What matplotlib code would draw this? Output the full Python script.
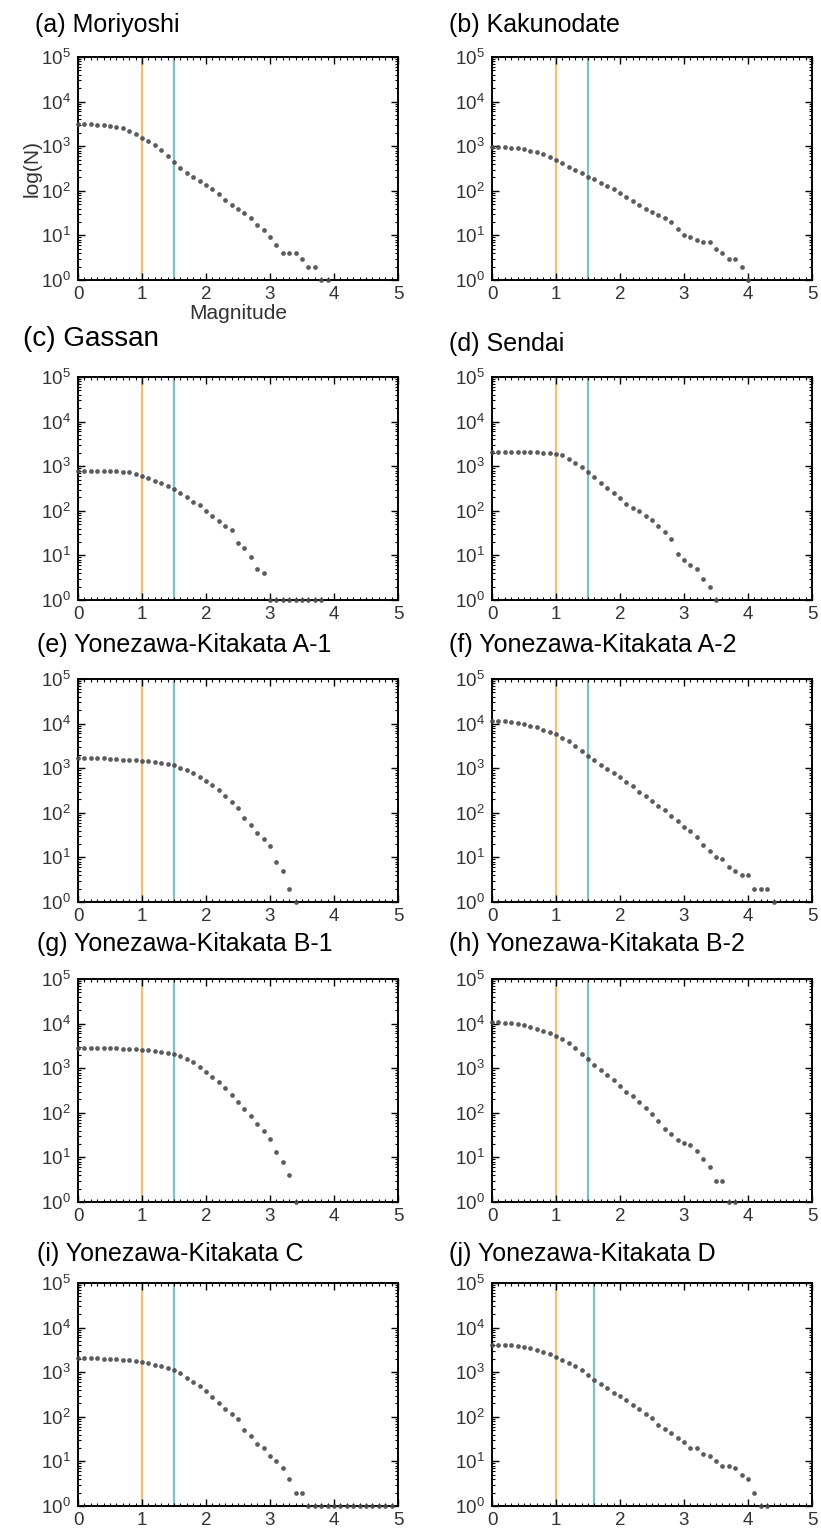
"""
Cumulative frequency-magnitude distributions for ten volcanic areas.
"""

import matplotlib
matplotlib.use("Agg")
import matplotlib.pyplot as plt
from matplotlib.ticker import LogLocator, MultipleLocator, NullFormatter
import numpy as np

plt.rcParams["font.family"] = ["Liberation Sans", "DejaVu Sans"]
plt.rcParams["mathtext.default"] = "regular"

# Magnitude bins (0.1 step)
MAG = np.round(np.arange(0, 5.0, 0.1), 1)

titles = [
    "(a) Moriyoshi", "(b) Kakunodate", "(c) Gassan", "(d) Sendai",
    "(e) Yonezawa-Kitakata A-1", "(f) Yonezawa-Kitakata A-2",
    "(g) Yonezawa-Kitakata B-1", "(h) Yonezawa-Kitakata B-2",
    "(i) Yonezawa-Kitakata C", "(j) Yonezawa-Kitakata D",
]

# cumulative number of events N(>=M)
n_moriyoshi = [3100, 3100, 3080, 3050, 3000, 2900, 2750, 2500, 2200, 1850,
               1550, 1300, 1050, 820, 610, 440, 330, 255, 204, 166,
               133, 107, 84, 61, 48, 39, 31, 25, 17, 13,
               9, 6, 4, 4, 4, 3, 2, 2, 1, 1]
n_kakunodate = [980, 970, 955, 930, 895, 850, 800, 730, 660, 580,
                500, 410, 345, 290, 245, 205, 180, 150, 131, 108,
                89, 73, 58, 47, 40, 33, 29, 25, 20, 14,
                10, 9, 8, 7, 7, 5, 4, 3, 3, 2,
                1]
n_gassan = [790, 790, 790, 790, 790, 785, 775, 755, 730, 670,
            610, 550, 475, 415, 365, 310, 250, 203, 158, 133,
            100, 76, 60, 46, 37, 19, 15, 9, 5, 4,
            1, 1, 1, 1, 1, 1, 1, 1, 1]
n_sendai = [2100, 2100, 2100, 2100, 2100, 2080, 2060, 2040, 2000, 1950,
            1900, 1770, 1480, 1200, 960, 750, 560, 430, 330, 257,
            190, 140, 118, 97, 77, 63, 46, 34, 23, 11,
            8, 6, 5, 3, 2, 1]
n_yk_a1 = [1660, 1660, 1660, 1660, 1660, 1640, 1600, 1560, 1520, 1490,
           1450, 1420, 1370, 1300, 1230, 1150, 1030, 915, 775, 650,
           505, 425, 318, 235, 173, 130, 78, 52, 36, 26,
           18, 8, 5, 2, 1]
n_yk_a2 = [11500, 11400, 11200, 11000, 10500, 9800, 9000, 8200, 7300, 6500,
           5700, 4800, 4000, 3150, 2430, 1860, 1510, 1210, 960, 790,
           635, 480, 390, 300, 235, 180, 139, 113, 86, 64,
           49, 40, 29, 19, 14, 10, 9, 6, 5, 4,
           4, 2, 2, 2, 1]
n_yk_b1 = [2840, 2840, 2840, 2840, 2840, 2840, 2800, 2750, 2700, 2650,
           2600, 2500, 2400, 2300, 2200, 2090, 1910, 1610, 1360, 1050,
           815, 630, 490, 360, 245, 175, 124, 84, 56, 40,
           26, 13, 8, 4, 1]
n_yk_b2 = [10700, 10600, 10400, 10100, 9700, 9100, 8400, 7700, 6900, 6100,
           5400, 4500, 3600, 2800, 2100, 1610, 1180, 930, 690, 530,
           395, 300, 233, 174, 130, 95, 67, 44, 34, 25,
           21, 19, 14, 9, 6, 3, 3, 1, 1]
n_yk_c = [2040, 2040, 2040, 2040, 2020, 2000, 1960, 1900, 1830, 1760,
          1690, 1600, 1480, 1350, 1230, 1120, 940, 755, 600, 490,
          375, 280, 205, 150, 118, 87, 51, 38, 25, 20,
          13, 10, 7, 4, 2, 2, 1, 1, 1, 1,
          1, 1, 1, 1, 1, 1, 1, 1, 1, 1]
n_yk_d = [4100, 4080, 4050, 4000, 3900, 3750, 3500, 3200, 2850, 2500,
          2190, 1910, 1620, 1360, 1110, 865, 670, 545, 440, 350,
          295, 240, 185, 150, 118, 95, 67, 52, 44, 34,
          27, 20, 20, 15, 13, 10, 8, 8, 7, 5,
          4, 2, 1, 1]

counts = [n_moriyoshi, n_kakunodate, n_gassan, n_sendai, n_yk_a1,
          n_yk_a2, n_yk_b1, n_yk_b2, n_yk_c, n_yk_d]

# reference magnitudes (orange) and completeness magnitudes (teal)
m_ref = [1.0, 1.0, 1.0, 1.0, 1.0, 1.0, 1.0, 1.0, 1.0, 1.0]
m_c = [1.5, 1.5, 1.5, 1.5, 1.5, 1.5, 1.5, 1.5, 1.5, 1.6]

W, H = 821, 1533
fig = plt.figure(figsize=(W / 100, H / 100), dpi=100)

col_left = [78, 492]
row_top = [57, 377, 679, 979, 1283]
ax_w, ax_h = 320, 223
title_pos = [(35, 13), (449, 13), (23, 326), (449, 332), (37, 633),
             (449, 633), (37, 932), (449, 932), (37, 1242), (449, 1242)]

for k in range(10):
    r, c = divmod(k, 2)
    x0 = col_left[c]
    y0 = row_top[r]
    ax = fig.add_axes([x0 / W, 1 - (y0 + ax_h) / H, ax_w / W, ax_h / H])

    ax.axvline(m_ref[k], color="#f7b867", lw=1.6, alpha=0.9, zorder=1)
    ax.axvline(m_c[k], color="#6fbcbc", lw=1.6, alpha=0.9, zorder=1)

    n = counts[k]
    ax.plot(MAG[:len(n)], n, "o", ms=3.4, color="#4a4a4a", mec="none",
            alpha=0.9, clip_on=False, zorder=3)

    ax.set_yscale("log")
    ax.set_xlim(0, 5)
    ax.set_ylim(1, 1e5)
    ax.xaxis.set_major_locator(MultipleLocator(1))
    ax.xaxis.set_minor_locator(MultipleLocator(0.1))
    ax.yaxis.set_major_locator(LogLocator(base=10, numticks=10))
    ax.yaxis.set_minor_locator(LogLocator(base=10, subs=np.arange(2, 10), numticks=10))
    ax.yaxis.set_minor_formatter(NullFormatter())
    ax.tick_params(which="both", direction="in", top=True, right=True,
                   labelsize=13.5, labelcolor="#333333")
    ax.tick_params(which="major", length=5, width=1)
    ax.tick_params(which="minor", length=2.5, width=0.8)
    ax.tick_params(axis="x", pad=4)
    ax.tick_params(axis="y", pad=5)
    for s in ax.spines.values():
        s.set_linewidth(1.4)

    if k == 0:
        ax.set_ylabel("log(N)", fontsize=15, color="#333333", labelpad=0)
        ax.set_xlabel("Magnitude", fontsize=15, color="#333333", labelpad=1)

    tx, ty = title_pos[k]
    fs = 20 if k == 2 else 18
    fig.text(tx / W, 1 - ty / H, titles[k], fontsize=fs, ha="left", va="top")

fig.savefig("out.png", dpi=100)
